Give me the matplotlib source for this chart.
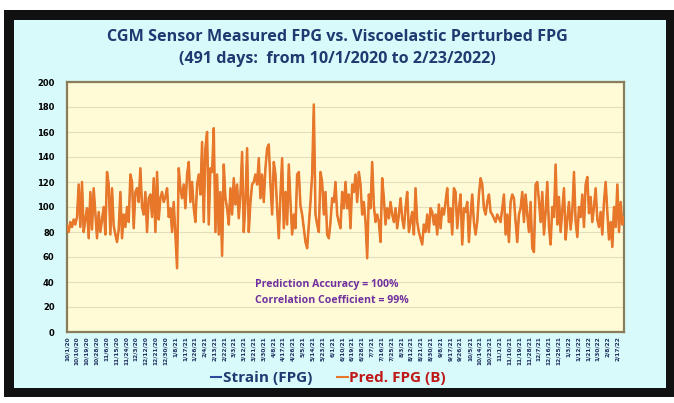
import numpy as np
import matplotlib.pyplot as plt
from matplotlib.patches import Rectangle
import datetime as dt

# FPG readings (mg/dL) left to right
pred_fpg = [
    85, 80, 88, 84, 90, 86, 92, 118, 84, 120, 80, 90, 99, 75, 112, 82, 115, 95, 75, 96,
    80, 90, 100, 78, 128, 118, 78, 115, 85, 78, 72, 82, 112, 75, 94, 84, 100, 88, 126, 120,
    83, 112, 115, 104, 131, 100, 94, 112, 80, 107, 110, 92, 123, 80, 128, 90,
    107, 112, 104, 108, 115, 92, 99, 80, 104, 78, 51, 131, 115, 107, 118, 99, 126, 136, 104, 120,
    99, 88, 118, 126, 110, 152, 88, 147, 160, 86, 131, 128, 163, 80, 126, 78, 112, 61, 134, 107,
    99, 86, 115, 94, 123, 102, 118, 91, 110, 144, 80, 104, 147, 80, 104, 118,
    120, 126, 118, 139, 107, 126, 104, 131, 147, 150, 118, 94, 136, 126, 99, 75, 110, 139, 83, 112,
    86, 134, 104, 78, 94, 83, 126, 128, 101, 94, 83, 72, 67, 86, 104, 126, 182, 94, 86, 80,
    128, 120, 94, 112, 78, 75, 88, 107, 104, 120, 94, 88, 83, 112, 99, 120,
    99, 110, 83, 118, 112, 126, 104, 128, 118, 94, 104, 88, 59, 110, 99, 136, 101, 88, 94, 88,
    72, 123, 107, 86, 99, 91, 104, 94, 88, 99, 83, 94, 107, 91, 83, 99, 112, 80, 88, 96,
    78, 115, 88, 80, 75, 70, 86, 80, 94, 80, 99, 96, 86, 94, 78, 102, 83, 99,
    94, 104, 115, 88, 99, 78, 115, 112, 83, 99, 110, 70, 99, 96, 104, 72, 94, 110, 88, 78,
    88, 110, 123, 118, 99, 94, 104, 110, 96, 94, 91, 88, 94, 91, 88, 99, 110, 78, 94, 72,
    104, 110, 107, 88, 72, 94, 99, 112, 88, 110, 94, 80, 104, 67, 64, 118, 120,
    105, 88, 112, 78, 96, 120, 84, 70, 100, 92, 134, 86, 108, 80, 98, 115, 74, 90, 104, 82,
    96, 128, 88, 76, 100, 92, 110, 84, 118, 124, 95, 108, 88, 100, 115, 90, 84, 96, 78, 104,
    120, 96, 74, 88, 68, 100, 84, 118, 80, 104, 86, 92,
]
strain_fpg = list(pred_fpg)  # measured series sits under the prediction (99% correlation)

start_date = dt.date(2020, 10, 1)
n_days = 511
label_step = 9

days = np.linspace(0, n_days - 1, len(pred_fpg))
tick_days = list(range(0, n_days, label_step))
tick_labels = []
for d in tick_days:
    t = start_date + dt.timedelta(days=d)
    tick_labels.append(f"{t.month}/{t.day}/{t.year % 100}")

fig = plt.figure(figsize=(6.74, 4.03), dpi=100, facecolor='white')

# dark frame and light cyan panel
fig.patches.append(Rectangle((4 / 674, 1 - 397 / 403), 670 / 674, 387 / 403,
                             transform=fig.transFigure, facecolor='#111111', zorder=-3))
fig.patches.append(Rectangle((14 / 674, 1 - 388 / 403), 652 / 674, 368 / 403,
                             transform=fig.transFigure, facecolor='#d8fafa', zorder=-2))

ax = fig.add_axes([67 / 674, 1 - 332 / 403, 557 / 674, 250 / 403])
ax.set_facecolor('#fffbd6')

ax.plot(days, strain_fpg, color='#2f4a9c', lw=1.0, label='Strain (FPG)', zorder=2)
ax.plot(days, pred_fpg, color='#e8772a', lw=1.8, label='Pred. FPG (B)', zorder=3)

ax.set_xlim(0, n_days - 1)
ax.set_ylim(0, 200)
ax.set_yticks(range(0, 201, 20))
ax.grid(axis='y', color='#e2dfc0', lw=0.8)
ax.set_axisbelow(True)
ax.tick_params(axis='y', length=0, pad=9, labelsize=6)
for lab in ax.get_yticklabels():
    lab.set_fontweight('bold')
ax.set_xticks(tick_days)
ax.set_xticklabels(tick_labels, rotation=90, fontsize=4.2, color='#1f2f5f', fontweight='bold')
ax.tick_params(axis='x', length=0, pad=3)
for s in ax.spines.values():
    s.set_color('#8a7d5c')
    s.set_linewidth(1.6)

fig.text(0.5, 1 - 37 / 403, 'CGM Sensor Measured FPG vs. Viscoelastic Perturbed FPG',
         ha='center', va='center', fontsize=11.6, fontweight='bold', color='#1f3a70',
         family='Open Sans')
fig.text(0.5, 1 - 59 / 403, '(491 days:  from 10/1/2020 to 2/23/2022)',
         ha='center', va='center', fontsize=11.6, fontweight='bold', color='#1f3a70',
         family='Open Sans')

ax.text(0.337, 0.18, 'Prediction Accuracy = 100%', transform=ax.transAxes,
        fontsize=7.6, fontweight='bold', color='#7030a0', family='Open Sans')
ax.text(0.337, 0.115, 'Correlation Coefficient = 99%', transform=ax.transAxes,
        fontsize=7.6, fontweight='bold', color='#7030a0', family='Open Sans')

leg = fig.legend(loc='center', bbox_to_anchor=(0.487, 1 - 378 / 403), ncol=2, frameon=False,
                 handlelength=0.7, handletextpad=0.1, columnspacing=1.6,
                 prop={'family': 'Open Sans', 'weight': 'bold', 'size': 11})
for txt, c in zip(leg.get_texts(), ['#1f3a70', '#c01818']):
    txt.set_color(c)
for h in leg.legend_handles:
    h.set_linewidth(1.5)

fig.savefig('out.png', dpi=100, facecolor='white')
